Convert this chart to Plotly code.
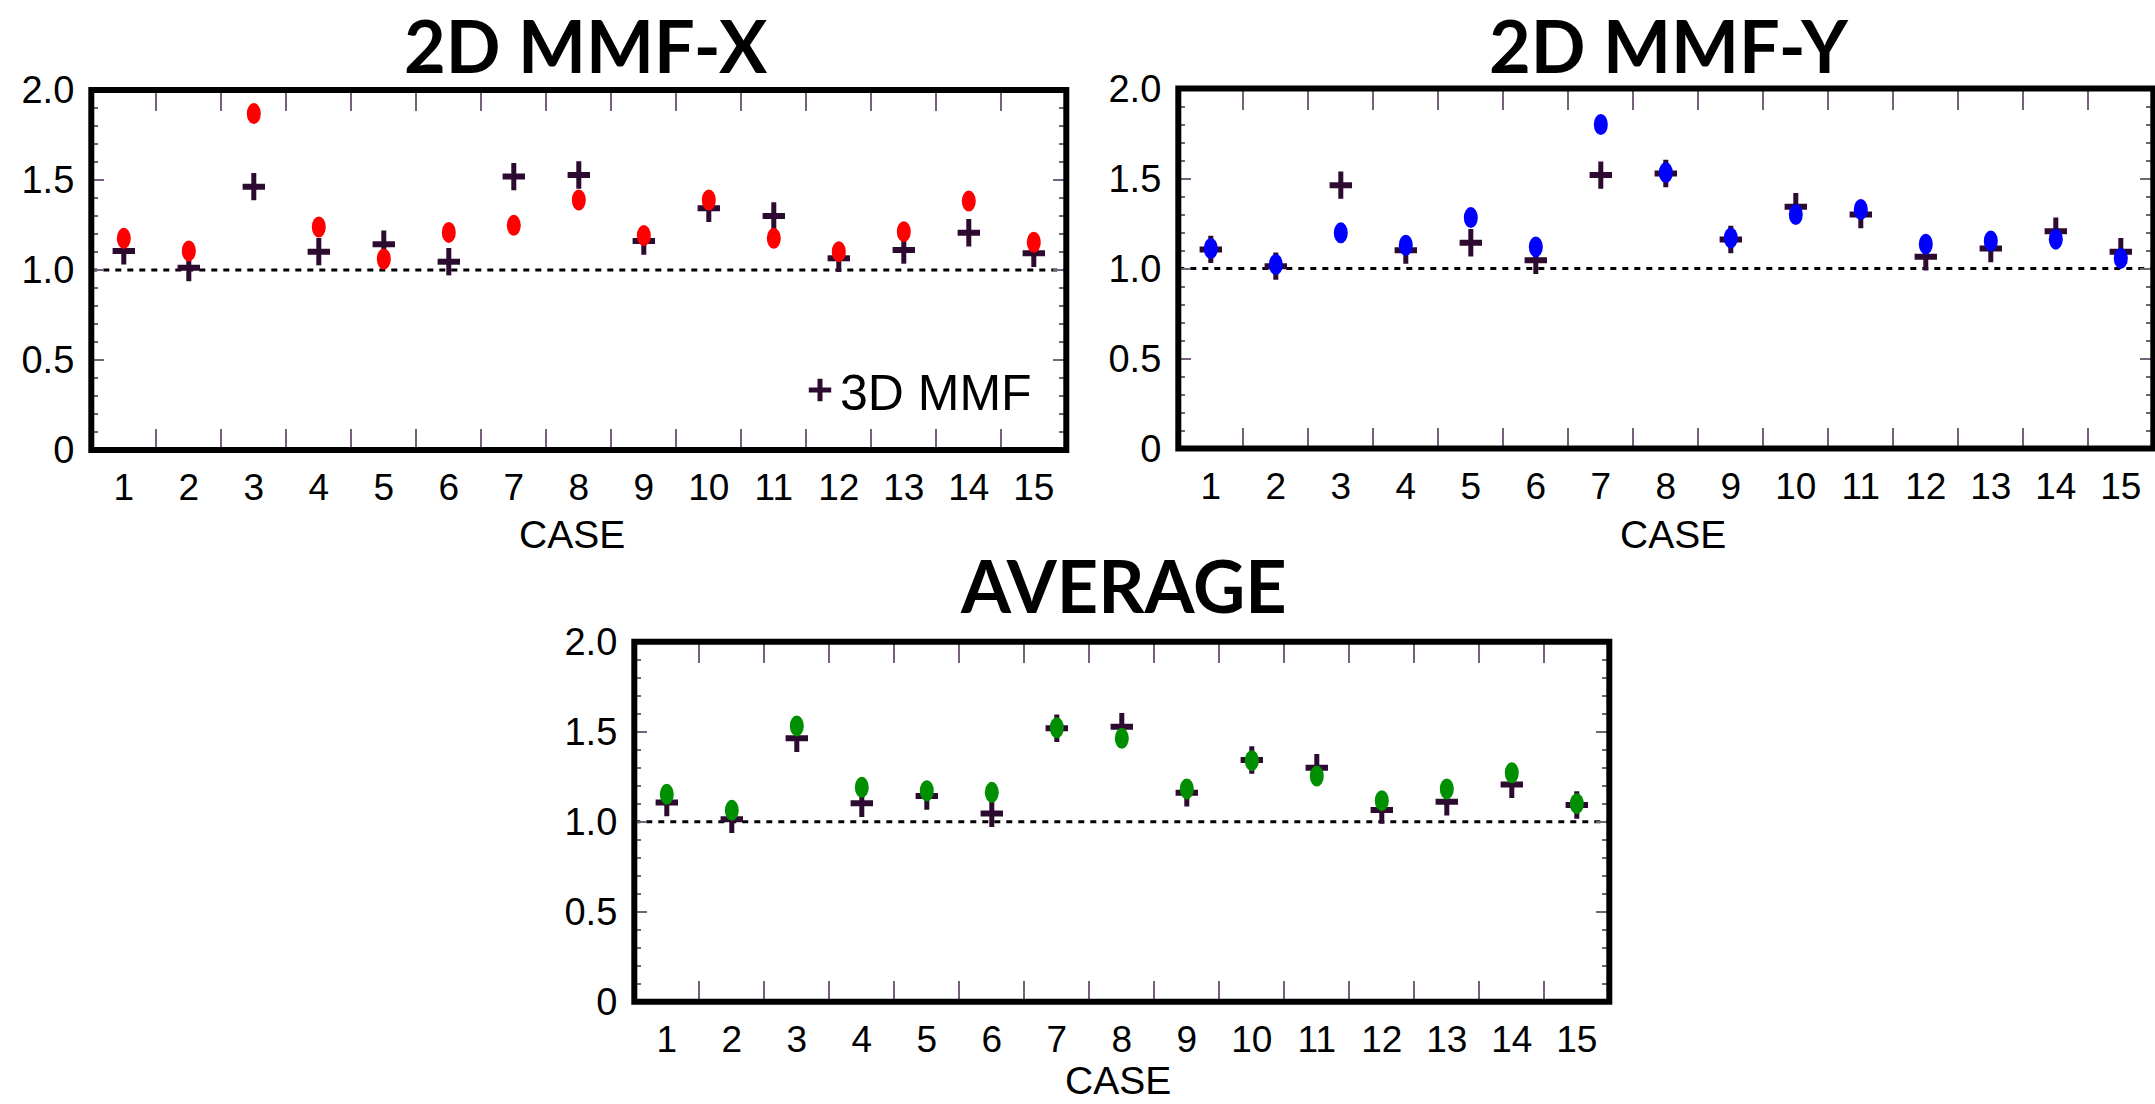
import plotly.graph_objects as go

# ---------------- data ----------------
cases = list(range(1, 16))
case_labels = [str(c) for c in cases]

mmf3d = [1.106, 1.013, 1.463, 1.102, 1.143, 1.046, 1.519, 1.528,
         1.161, 1.343, 1.300, 1.065, 1.111, 1.207, 1.093]
mmf2d_x = [1.176, 1.106, 1.869, 1.239, 1.061, 1.209, 1.248, 1.389,
           1.191, 1.389, 1.176, 1.102, 1.213, 1.383, 1.154]
mmf2d_y = [1.111, 1.022, 1.198, 1.129, 1.283, 1.120, 1.800, 1.533,
           1.170, 1.300, 1.328, 1.135, 1.153, 1.163, 1.056]
mmf2d_avg = [1.152, 1.063, 1.532, 1.191, 1.172, 1.163, 1.522, 1.463,
             1.182, 1.339, 1.254, 1.117, 1.182, 1.272, 1.100]
mmf3d_err = 0.076

y_tick_vals = [0, 0.5, 1.0, 1.5, 2.0]
y_tick_text = ["0", "0.5", "1.0", "1.5", "2.0"]
panel_titles = ["2D MMF-X", "2D MMF-Y", "AVERAGE"]
legend_name = "3D MMF"
x_title = "CASE"

# ---------------- style ----------------
W, H = 2155, 1104
DARK = "#2d0a30"
TICKC = "#75627a"
COLORS = ["#ff0000", "#0000ff", "#008f00"]
XTICKFONT = dict(family="Liberation Sans, Arial, sans-serif", size=37, color="black")
YTICKFONT = dict(family="Liberation Sans, Arial, sans-serif", size=38, color="black")
TITLEFONT = dict(family="Lato, sans-serif", size=72, weight=700, color="black")
LABELFONT = dict(family="Liberation Sans, Arial, sans-serif", size=39, color="black")

# panel pixel boxes: (left, right, top, bottom)
boxes = [(91.3, 1066.3, 90.0, 450.0),
         (1178.3, 2153.3, 88.5, 448.5),
         (634.3, 1609.3, 641.7, 1001.7)]
# (x centre, y, vertical anchor)
title_pos = [(586, 1, "top"), (1669, 1, "top"), (1124, 585, "middle")]
xlabel_pos = [(572, 534, "middle"), (1673, 534, "middle"), (1118, 1103, "bottom")]

series2d = [mmf2d_x, mmf2d_y, mmf2d_avg]
half_ticks = [c + 0.5 for c in cases[:-1]]

fig = go.Figure()
shapes = []
annotations = []
layout_axes = {}

for i, (box, vals, col) in enumerate(zip(boxes, series2d, COLORS)):
    n = "" if i == 0 else str(i + 1)
    m = str(i + 4)
    xa, ya = "x" + n, "y" + n
    xt, yr = "x" + m, "y" + m
    l, r, t, b = box
    xdom = [l / W, r / W]
    ydom = [(H - b) / H, (H - t) / H]

    # main axes: labels, bottom / left ticks
    layout_axes["xaxis" + n] = dict(
        domain=xdom, anchor=ya, range=[0.5, 15.5], automargin=False,
        tickmode="array", tickvals=cases, ticktext=case_labels, ticks="",
        ticklabelstandoff=12,
        tickfont=XTICKFONT, showgrid=False, zeroline=False, showline=False,
        minor=dict(tickmode="array", tickvals=half_ticks, ticks="inside",
                   ticklen=21, tickwidth=2, tickcolor=TICKC, showgrid=False),
        fixedrange=True,
    )
    layout_axes["yaxis" + n] = dict(
        domain=ydom, anchor=xa, range=[0, 2], automargin=False,
        tickmode="array", tickvals=y_tick_vals, ticktext=y_tick_text,
        ticks="inside", ticklen=13, tickwidth=2, tickcolor=TICKC,
        ticklabelstandoff=16,
        tickfont=YTICKFONT, showgrid=False, zeroline=False, showline=False,
        minor=dict(tick0=0, dtick=0.1, ticks="inside", ticklen=7,
                   tickwidth=1.5, tickcolor=TICKC, showgrid=False),
        fixedrange=True,
    )
    # mirrored tick axes: top / right
    layout_axes["xaxis" + m] = dict(
        overlaying=xa, anchor=yr, side="top", range=[0.5, 15.5],
        automargin=False,
        tickmode="array", tickvals=half_ticks, ticks="inside",
        ticklen=21, tickwidth=2, tickcolor=TICKC, showticklabels=False,
        showgrid=False, zeroline=False, showline=False, fixedrange=True,
    )
    layout_axes["yaxis" + m] = dict(
        overlaying=ya, anchor=xt, side="right", range=[0, 2],
        automargin=False,
        tickmode="array", tickvals=y_tick_vals, ticks="inside",
        ticklen=13, tickwidth=2, tickcolor=TICKC, showticklabels=False,
        minor=dict(tick0=0, dtick=0.1, ticks="inside", ticklen=7,
                   tickwidth=1.5, tickcolor=TICKC, showgrid=False),
        showgrid=False, zeroline=False, showline=False, fixedrange=True,
    )
    fig.add_trace(go.Scatter(x=[None], y=[None], xaxis=xt, yaxis=yr,
                             mode="markers", showlegend=False,
                             hoverinfo="skip"))

    # 3D MMF crosses (marker bar + vertical error bar)
    fig.add_trace(go.Scatter(
        x=cases, y=mmf3d, mode="markers", xaxis=xa, yaxis=ya,
        marker=dict(symbol="line-ew", size=16, color=DARK,
                    line=dict(width=6, color=DARK)),
        error_y=dict(type="constant", value=mmf3d_err, thickness=5,
                     width=0, color=DARK),
        showlegend=False, hoverinfo="x+y",
    ))

    # reference line at 1.0
    shapes.append(dict(type="line", xref=xa + " domain", yref=ya,
                       x0=0, x1=1, y0=1, y1=1, layer="below",
                       line=dict(color="black", width=3, dash="6px,6px")))

    # 2D MMF ellipses, anchored on data values
    for c, v in zip(cases, vals):
        shapes.append(dict(type="circle", xref=xa, yref=ya,
                           xsizemode="pixel", ysizemode="pixel",
                           xanchor=c, yanchor=v,
                           x0=-7, x1=7, y0=-10.5, y1=10.5,
                           fillcolor=col, line=dict(width=0), layer="above"))

    # thick frame
    shapes.append(dict(type="rect", xref=xa + " domain", yref=ya + " domain",
                       x0=0, x1=1, y0=0, y1=1, layer="above",
                       line=dict(color="black", width=6),
                       fillcolor="rgba(0,0,0,0)"))

    tx, ty, ta = title_pos[i]
    annotations.append(dict(text=panel_titles[i], xref="paper", yref="paper",
                            x=tx / W, y=(H - ty) / H, xanchor="center",
                            yanchor=ta, showarrow=False, borderpad=0,
                            font=TITLEFONT))
    cx, cy, ca = xlabel_pos[i]
    annotations.append(dict(text=x_title, xref="paper", yref="paper",
                            x=cx / W, y=(H - cy) / H, xanchor="center",
                            yanchor=ca, showarrow=False, borderpad=0,
                            font=LABELFONT))

# legend entry for the 3D MMF crosses
fig.add_trace(go.Scatter(
    x=[None], y=[None], mode="markers", name=legend_name, xaxis="x", yaxis="y",
    marker=dict(symbol="cross-thin", size=16, color=DARK,
                line=dict(width=5, color=DARK)),
    showlegend=True,
))

fig.update_layout(
    width=W, height=H, autosize=False,
    margin=dict(l=0, r=0, t=0, b=0, autoexpand=False),
    paper_bgcolor="white", plot_bgcolor="white",
    shapes=shapes, annotations=annotations,
    legend=dict(x=1037 / W, y=(H - 390) / H, xanchor="right", yanchor="middle",
                bgcolor="rgba(0,0,0,0)",
                font=dict(family="Liberation Sans, Arial, sans-serif",
                          size=50, color="black")),
    **layout_axes,
)

fig.write_html("out.html", config={"displayModeBar": False})
